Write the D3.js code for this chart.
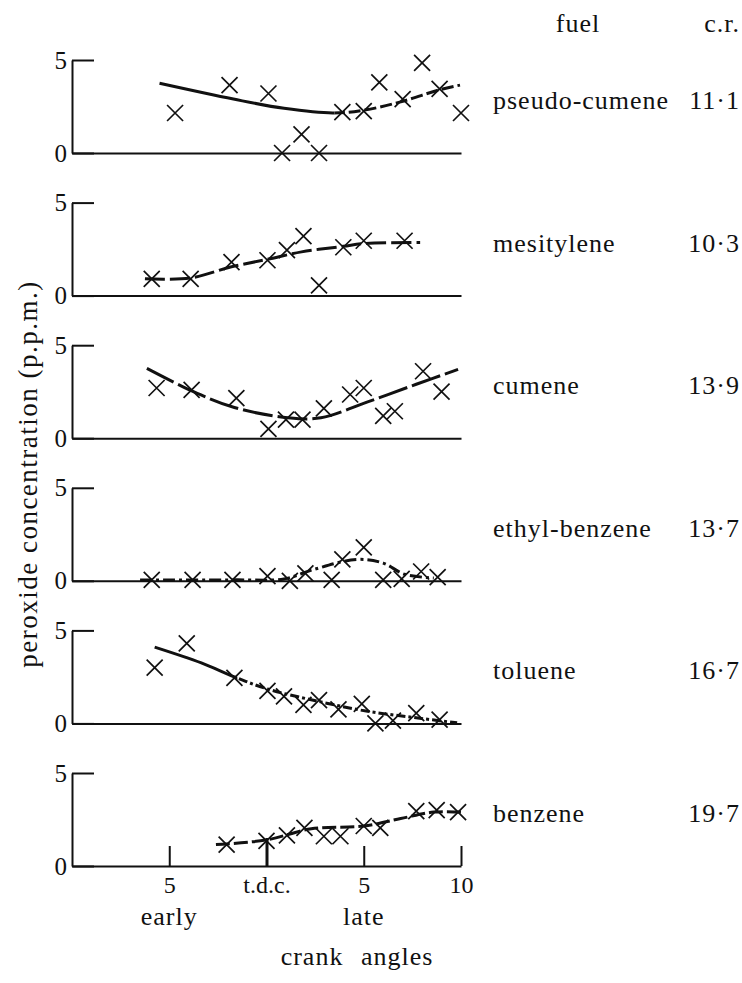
<!DOCTYPE html>
<html>
<head>
<meta charset="utf-8">
<script src="https://cdn.jsdelivr.net/npm/d3@7"></script>
<style>
body { margin: 0; background: #fff; }
</style>
</head>
<body>
<div id="chart"></div>
<script>
/* peroxide concentration against crank angle, one panel per fuel */

var fuels = ["pseudo-cumene", "mesitylene", "cumene", "ethyl-benzene", "toluene", "benzene"];
var ratios = ["11\u00b71", "10\u00b73", "13\u00b79", "13\u00b77", "16\u00b77", "19\u00b77"];
var xTicks = [-5, 0, 5, 10];
var xTickLabels = ["5", "t.d.c.", "5", "10"];
var yTicks = [0, 5];

// measured points [crank angle, p.p.m.]
var pseudoPts = [[-4.7, 2.15], [-1.9, 3.65], [0.1, 3.2], [0.8, 0], [1.8, 1.0], [2.7, 0],
	[3.9, 2.2], [5.0, 2.25], [5.8, 3.8], [7.0, 2.9], [8.0, 4.85], [8.9, 3.45], [10.0, 2.15]];
var mesityPts = [[-5.9, 0.9], [-3.9, 0.9], [-1.8, 1.8], [0.05, 1.9], [1.05, 2.45], [1.9, 3.2],
	[2.7, 0.55], [3.95, 2.6], [5.0, 2.95], [7.1, 2.95]];
var cumenePts = [[-5.65, 2.7], [-3.85, 2.6], [-1.55, 2.15], [0.1, 0.5], [1.0, 1.0], [1.85, 1.0],
	[2.95, 1.6], [4.3, 2.35], [5.0, 2.7], [6.0, 1.2], [6.6, 1.45], [8.05, 3.6], [9.0, 2.5]];
var ethylPts = [[-5.9, 0.05], [-3.8, 0.05], [-1.75, 0.05], [0.05, 0.25], [1.2, 0], [2.0, 0.4],
	[3.35, 0.05], [3.9, 1.15], [5.0, 1.8], [6.0, 0.05], [6.95, 0.1], [7.95, 0.5], [8.8, 0.2]];
var toluenePts = [[-5.75, 3.0], [-4.1, 4.3], [-1.65, 2.45], [0.05, 1.75], [0.9, 1.45], [1.9, 1.0],
	[2.7, 1.25], [3.7, 0.75], [4.9, 1.05], [5.6, 0], [6.5, 0.15], [7.7, 0.55], [8.9, 0.2]];
var benzenePts = [[-2.05, 1.15], [0, 1.35], [1.05, 1.65], [1.95, 2.05], [2.95, 1.6], [3.8, 1.6],
	[5.0, 2.15], [5.85, 2.05], [7.7, 2.95], [8.75, 3.0], [9.85, 2.9]];

// drawn-in trend curves
var pseudoCurve = [[-5.5, 3.75], [-1.7, 2.9], [0.9, 2.4], [3.4, 2.15], [5.0, 2.3], [6.9, 2.75], [8.9, 3.4], [9.95, 3.65]];
var mesityCurve = [[-6.25, 0.9], [-3.9, 0.95], [-1.8, 1.55], [0.05, 1.95], [1.8, 2.35], [3.95, 2.65], [5.0, 2.8], [7.9, 2.85]];
var cumeneCurve = [[-6.15, 3.75], [-3.85, 2.55], [-1.65, 1.65], [1.1, 1.1], [2.8, 1.1], [5.2, 1.95], [7.7, 2.9], [9.85, 3.7]];
var ethylCurve = [[-6.5, 0.04], [-1.65, 0.05], [0.9, 0.1], [2.4, 0.6], [4.65, 1.15], [6.0, 0.95], [7.1, 0.35], [8.6, 0.15]];
var tolueneCurve = [[-5.75, 4.1], [-3.35, 3.25], [-1.65, 2.5], [0.05, 1.85], [2.6, 1.2], [5.2, 0.65], [7.7, 0.3], [9.8, 0.03]];
var benzeneCurve = [[-2.6, 1.15], [0, 1.4], [2.3, 2.0], [5.0, 2.15], [6.9, 2.55], [8.6, 2.9], [10.0, 2.9]];

var allPts = [pseudoPts, mesityPts, cumenePts, ethylPts, toluenePts, benzenePts];
var allCurves = [pseudoCurve, mesityCurve, cumeneCurve, ethylCurve, tolueneCurve, benzeneCurve];

// line style of each curve: solid up to solidTo, then the dash pattern
var dashes = ["12,4", "20,5", "30,5", "12,4,3,4", "9,3,3,3", "14,4"];
var solidTo = [3.5, null, null, null, -1.5, null];

var width = 742, height = 983;
var firstBase = 153, step = 142.6, panelH = 93;
var ink = "#111";

var svg = d3.select("#chart")
	.append("svg")
	.attr("width", width)
	.attr("height", height);

var x = d3.scaleLinear().domain([-10, 10]).range([72, 461]);

var line = d3.line()
	.x(function(d) { return x(d[0]); })
	.curve(d3.curveCatmullRom.alpha(0.5));

var defs = svg.append("defs");

function label(sel, size, spacing) {
	return sel.style("font-family", "'Liberation Serif'")
		.style("font-size", size + "px")
		.style("letter-spacing", spacing + "px")
		.style("fill", ink);
}

fuels.forEach(function(fuel, i) {
	var base = firstBase + i * step;
	var y = d3.scaleLinear().domain([0, 5]).range([base, base - panelH]);
	var g = svg.append("g").attr("class", "panel");

	// y axis, top tick pointing into the plot
	var ya = g.append("g")
		.attr("transform", "translate(" + x(-10) + ",0)")
		.call(d3.axisLeft(y).tickValues(yTicks).tickFormat(d3.format("d"))
			.tickSizeInner(-22).tickSizeOuter(0).tickPadding(5));
	ya.selectAll("path, line").attr("stroke", ink).attr("stroke-width", 2);
	label(ya.selectAll("text"), 25, 0);

	// x axis baseline, ticks only in the last panel
	var isLast = i === fuels.length - 1;
	var xAxis = d3.axisBottom(x).tickSizeOuter(0);
	if (isLast) {
		xAxis.tickValues(xTicks).tickSizeInner(-20).tickPadding(10)
			.tickFormat(function(d, k) { return xTickLabels[k]; });
	} else {
		xAxis.tickValues([]);
	}
	var xa = g.append("g")
		.attr("transform", "translate(0," + base + ")")
		.call(xAxis);
	xa.selectAll("path, line").attr("stroke", ink).attr("stroke-width", 2);
	label(xa.selectAll("text"), 24, 0);
	xa.selectAll(".tick")
		.filter(function(d) { return d === 0; })
		.select("line").attr("y2", -28).attr("stroke-width", 3);

	// trend curve
	line.y(function(d) { return y(d[1]); });
	var pathD = line(allCurves[i]);
	if (solidTo[i] !== null) {
		var cut = x(solidTo[i]);
		defs.append("clipPath").attr("id", "left" + i)
			.append("rect").attr("x", 0).attr("y", base - 120).attr("width", cut).attr("height", 140);
		defs.append("clipPath").attr("id", "right" + i)
			.append("rect").attr("x", cut).attr("y", base - 120).attr("width", width - cut).attr("height", 140);
		g.append("path").attr("d", pathD).attr("clip-path", "url(#left" + i + ")")
			.attr("fill", "none").attr("stroke", ink).attr("stroke-width", 3);
		g.append("path").attr("d", pathD).attr("clip-path", "url(#right" + i + ")")
			.attr("fill", "none").attr("stroke", ink).attr("stroke-width", 3)
			.attr("stroke-dasharray", dashes[i]);
	} else {
		g.append("path").attr("d", pathD)
			.attr("fill", "none").attr("stroke", ink).attr("stroke-width", 3)
			.attr("stroke-dasharray", dashes[i]);
	}

	// crosses
	g.selectAll(".cross")
		.data(allPts[i])
		.enter()
		.append("path")
		.attr("class", "cross")
		.attr("transform", function(d) { return "translate(" + x(d[0]) + "," + y(d[1]) + ")"; })
		.attr("d", "M-8,-8L8,8M-8,8L8,-8")
		.attr("stroke", ink)
		.attr("stroke-width", 1.7)
		.attr("fill", "none");

	// fuel name and compression ratio
	label(g.append("text"), 26, 1)
		.attr("x", 493).attr("y", base - 44)
		.text(fuel);
	label(g.append("text"), 26, 1)
		.attr("x", 740).attr("y", base - 44)
		.attr("text-anchor", "end")
		.text(ratios[i]);
});

/* headings and axis titles */
label(svg.append("text"), 26, 1).attr("x", 578).attr("y", 32).attr("text-anchor", "middle").text("fuel");
label(svg.append("text"), 26, 1).attr("x", 740).attr("y", 32).attr("text-anchor", "end").text("c.r.");

label(svg.append("text"), 26, 1).attr("x", x(-5)).attr("y", 925).attr("text-anchor", "middle").text("early");
label(svg.append("text"), 26, 1).attr("x", x(5)).attr("y", 925).attr("text-anchor", "middle").text("late");
label(svg.append("text"), 26, 1).attr("x", 357).attr("y", 965).attr("text-anchor", "middle")
	.style("word-spacing", "10px")
	.text("crank angles");

label(svg.append("text"), 27, 1.5)
	.attr("transform", "translate(37,474) rotate(-90)")
	.attr("text-anchor", "middle")
	.text("peroxide concentration (p.p.m.)");
</script>
</body>
</html>
